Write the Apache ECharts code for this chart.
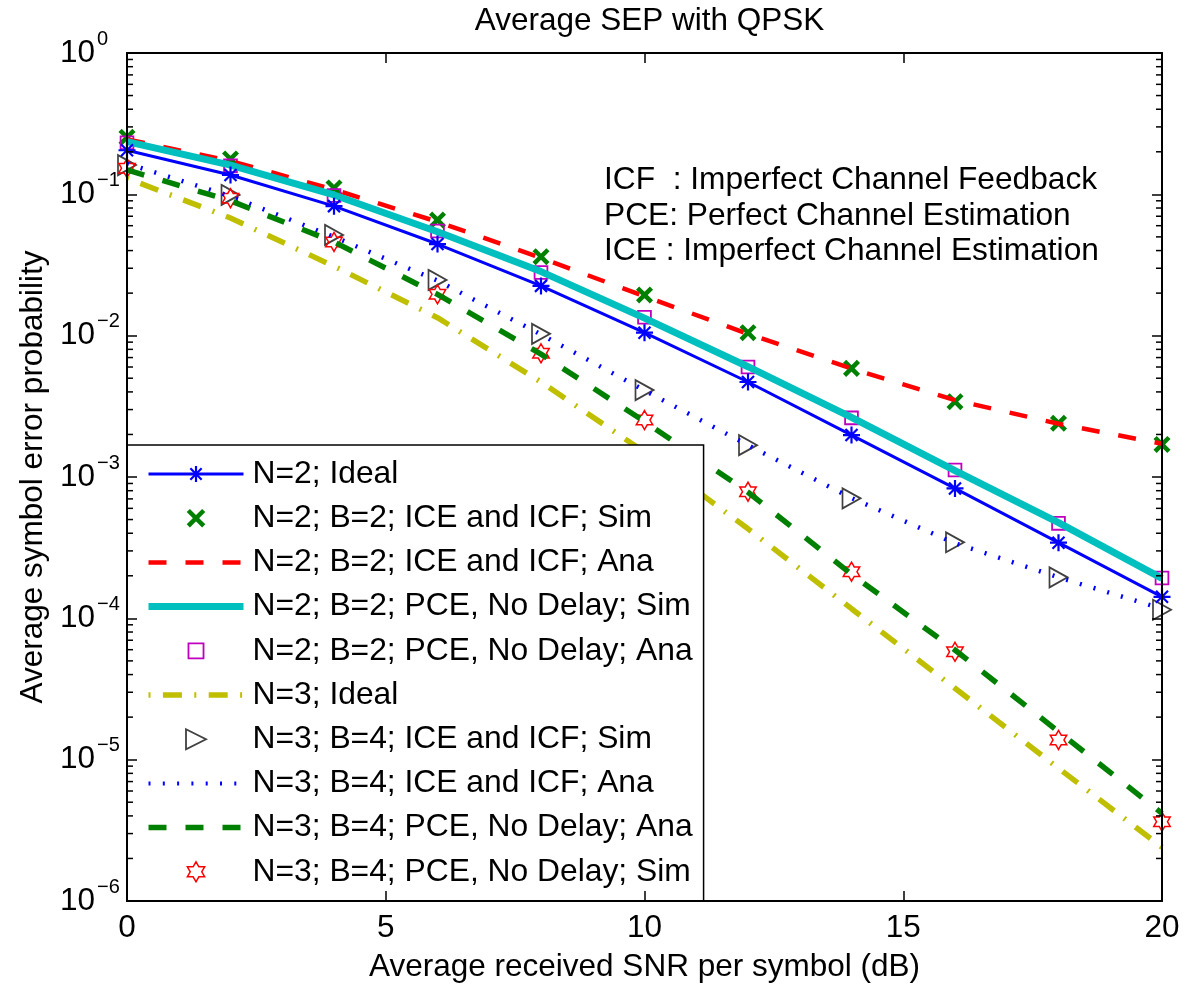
<!DOCTYPE html>
<html>
<head>
<meta charset="utf-8">
<script src="https://cdn.jsdelivr.net/npm/echarts@6/dist/echarts.min.js"></script>
<style>
  html, body { margin: 0; padding: 0; background: #fff; }
  #chart { width: 1186px; height: 990px; }
</style>
</head>
<body>
<div id="chart"></div>
<script>
// SNR grid (dB)
const snr = [0, 2, 4, 6, 8, 10, 12, 14, 16, 18, 20];

// N = 2 curves
const n2Ideal   = [0.205, 0.137, 0.0825, 0.0445, 0.0225, 0.0105, 0.0047, 0.00198, 0.00083, 0.000343, 0.000142];
const n2IceSim  = [0.253, 0.178, 0.111, 0.0658, 0.0362, 0.0194, 0.0105, 0.00587, 0.00341, 0.0024, 0.0017];
const n2IceAna  = [0.245, 0.172, 0.108, 0.064, 0.0355, 0.019, 0.0103, 0.00585, 0.0035, 0.00238, 0.00172];
const n2PceSim  = [0.236, 0.161, 0.099, 0.0544, 0.0284, 0.0133, 0.00603, 0.00264, 0.00111, 0.000475, 0.000192];
const n2PceAna  = [0.232, 0.159, 0.098, 0.055, 0.028, 0.0135, 0.006, 0.00262, 0.00112, 0.00047, 0.000193];

// N = 3 curves
const n3Ideal   = [0.13, 0.068, 0.031, 0.0134, 0.0047, 0.0015, 0.00043, 0.000117, 0.000032, 0.0000087, 0.0000024];
const n3IceSim  = [0.161, 0.099, 0.0516, 0.0248, 0.0103, 0.00412, 0.00168, 0.000706, 0.000345, 0.000195, 0.000115];
const n3IceAna  = [0.165, 0.097, 0.05, 0.0245, 0.0102, 0.0041, 0.00168, 0.00071, 0.00034, 0.000195, 0.000117];
const n3PceAna  = [0.149, 0.09, 0.046, 0.0196, 0.0074, 0.00247, 0.00078, 0.000205, 0.0000597, 0.0000158, 0.00000417];
const n3PceSim  = [0.153, 0.094, 0.046, 0.0196, 0.0075, 0.00253, 0.000787, 0.000214, 0.000058, 0.0000138, 0.00000364];

// Axis ranges
const xMin = 0, xMax = 20, xStep = 5;
const yMin = 1e-6, yMax = 1;

// Minor log ticks (2..9 within each decade)
const minorTicks = [];
for (let e = -6; e < 0; e++) {
  for (let m = 2; m <= 9; m++) minorTicks.push(m * Math.pow(10, e));
}

const FONT = '"Liberation Sans", Arial, Helvetica, sans-serif';

// Marker shapes (leading/trailing moveTo points pad the box so the glyph sits smaller inside it)
const ASTERISK = 'path://M0,-10L0,10M-10,0L10,0M-7.07,-7.07L7.07,7.07M-7.07,7.07L7.07,-7.07';
const XMARK = 'path://M-1.3,-1.3M-1,-1L1,1M-1,1L1,-1M1.3,1.3';
const SQUARE = 'path://M-1.33,-1.33M-1,-1L1,-1L1,1L-1,1ZM1.33,1.33';
const TRI_RIGHT = 'path://M0,0L1,0.5L0,1Z';
const HEXAGRAM = 'path://M0,-1L0.2887,-0.5L0.866,-0.5L0.577,0L0.866,0.5L0.2887,0.5L0,1L-0.2887,0.5L-0.866,0.5L-0.577,0L-0.866,-0.5L-0.2887,-0.5Z';
const CLEAR = 'rgba(0,0,0,0)';

const pair = arr => snr.map((x, i) => [x, arr[i]]);

const chart = echarts.init(document.getElementById('chart'), null, { renderer: 'canvas' });

const axisLineStyle = { color: '#000', width: 2 };
const tickStyle = { color: '#000', width: 1.5 };

const option = {
  animation: false,
  backgroundColor: '#fff',
  title: {
    text: 'Average SEP with QPSK',
    left: 644.5,
    top: 1,
    textAlign: 'center',
    textStyle: { fontFamily: FONT, fontSize: 31.5, fontWeight: 'normal', color: '#000', lineHeight: 31 }
  },
  grid: { left: 127, right: 24, top: 53, bottom: 89, containLabel: false },
  xAxis: [
    {
      type: 'value', min: xMin, max: xMax, interval: xStep, z: 10,
      name: 'Average received SNR per symbol (dB)',
      nameLocation: 'middle', nameGap: 51,
      nameTextStyle: { fontFamily: FONT, fontSize: 31.5, color: '#000', lineHeight: 31 },
      axisLine: { show: true, onZero: false, lineStyle: axisLineStyle },
      axisTick: { show: true, inside: true, length: 10, lineStyle: tickStyle },
      axisLabel: { fontFamily: FONT, fontSize: 31.5, color: '#000', margin: 12, lineHeight: 31 },
      splitLine: { show: false }
    },
    {
      type: 'value', position: 'top', min: xMin, max: xMax, interval: xStep, z: 10,
      axisLine: { show: true, onZero: false, lineStyle: axisLineStyle },
      axisTick: { show: true, inside: true, length: 10, lineStyle: tickStyle },
      axisLabel: { show: false },
      splitLine: { show: false }
    }
  ],
  yAxis: [
    {
      type: 'log', logBase: 10, min: yMin, max: yMax, interval: 1, z: 10,
      name: 'Average symbol error probability',
      nameLocation: 'middle', nameGap: 68, nameRotate: 90,
      nameTextStyle: { fontFamily: FONT, fontSize: 31.5, color: '#000', lineHeight: 31 },
      axisLine: { show: true, onZero: false, lineStyle: axisLineStyle },
      axisTick: { show: true, inside: true, length: 10, lineStyle: tickStyle },
      axisLabel: {
        align: 'left', margin: 67, padding: [0, 0, 8.5, 0], color: '#000',
        formatter: v => {
          const e = Math.round(Math.log10(v));
          return '{b|10}{s|' + (e < 0 ? '\u2212' + (-e) : e) + '}';
        },
        rich: {
          b: { fontFamily: FONT, fontSize: 31.5, height: 31, padding: [8.5, 0, 0, 0], color: '#000' },
          s: { fontFamily: FONT, fontSize: 20, height: 20, padding: [0, 0, 19.5, 2], color: '#000' }
        }
      },
      splitLine: { show: false }
    },
    {
      type: 'log', logBase: 10, min: yMin, max: yMax, interval: 1, position: 'right', z: 10,
      axisLine: { show: true, onZero: false, lineStyle: axisLineStyle },
      axisTick: { show: true, inside: true, length: 10, lineStyle: tickStyle },
      axisLabel: { show: false },
      splitLine: { show: false }
    }
  ],
  legend: {
    orient: 'vertical',
    left: 127, top: 445,
    backgroundColor: '#fff',
    borderColor: '#000', borderWidth: 1.5, borderRadius: 0,
    padding: [11, 11, 11, 18],
    itemWidth: 95, itemHeight: 20, itemGap: 8.2,
    symbolKeepAspect: true,
    selectedMode: false,
    z: 5,
    textStyle: { fontFamily: FONT, fontSize: 31.8, color: '#000', lineHeight: 36, padding: [0, 0, 0, 4] },
    data: [
      { name: 'N=2; Ideal', lineStyle: { width: 3 }, itemStyle: { borderWidth: 2.2 } },
      { name: 'N=2; B=2; ICE and ICF; Sim', itemStyle: { borderWidth: 4.5 } },
      { name: 'N=2; B=2; ICE and ICF; Ana', lineStyle: { width: 4.5 }, itemStyle: { opacity: 0 } },
      { name: 'N=2; B=2; PCE, No Delay; Sim', lineStyle: { width: 7 }, itemStyle: { opacity: 0 } },
      { name: 'N=2; B=2; PCE, No Delay; Ana', itemStyle: { borderWidth: 1.8 } },
      { name: 'N=3; Ideal', lineStyle: { width: 5.5 }, itemStyle: { opacity: 0 } },
      { name: 'N=3; B=4; ICE and ICF; Sim', itemStyle: { borderWidth: 1.8 } },
      { name: 'N=3; B=4; ICE and ICF; Ana', lineStyle: { width: 4 }, itemStyle: { opacity: 0 } },
      { name: 'N=3; B=4; PCE, No Delay; Ana', lineStyle: { width: 5.5 }, itemStyle: { opacity: 0 } },
      { name: 'N=3; B=4; PCE, No Delay; Sim', itemStyle: { borderWidth: 1.5 } }
    ]
  },
  graphic: [
    {
      type: 'text', left: 604, top: 163, z: 20,
      style: {
        text: 'ICF  : Imperfect Channel Feedback\nPCE: Perfect Channel Estimation\nICE : Imperfect Channel Estimation',
        font: '31.7px ' + FONT, fill: '#000', lineHeight: 35.5
      }
    }
  ],
  series: [
    {
      name: 'N=2; Ideal', type: 'line', data: pair(n2Ideal), clip: false,
      symbol: ASTERISK, symbolSize: 17, showAllSymbol: true,
      lineStyle: { color: '#0000ff', width: 3 },
      itemStyle: { color: CLEAR, borderColor: '#0000ff', borderWidth: 2.2 }
    },
    {
      name: 'N=2; B=2; ICE and ICF; Sim', type: 'scatter', data: pair(n2IceSim), clip: false,
      symbol: XMARK, symbolSize: 18,
      itemStyle: { color: CLEAR, borderColor: '#008000', borderWidth: 4.5, opacity: 1 }
    },
    {
      name: 'N=2; B=2; ICE and ICF; Ana', type: 'line', data: pair(n2IceAna), clip: false,
      symbol: 'none',
      lineStyle: { color: '#ff0000', width: 4.5, type: [18, 19] },
      itemStyle: { color: '#ff0000' }
    },
    {
      name: 'N=2; B=2; PCE, No Delay; Sim', type: 'line', data: pair(n2PceSim), clip: false,
      symbol: 'none',
      lineStyle: { color: '#00bfbf', width: 7 },
      itemStyle: { color: '#00bfbf' }
    },
    {
      name: 'N=2; B=2; PCE, No Delay; Ana', type: 'scatter', data: pair(n2PceAna), clip: false,
      symbol: SQUARE, symbolSize: 17,
      itemStyle: { color: CLEAR, borderColor: '#bf00bf', borderWidth: 1.8, opacity: 1 }
    },
    {
      name: 'N=3; Ideal', type: 'line', data: pair(n3Ideal), clip: false,
      symbol: 'none',
      lineStyle: { color: '#bfbf00', width: 5.5, type: [2, 12.4, 19, 12.4] },
      itemStyle: { color: '#bfbf00' }
    },
    {
      name: 'N=3; B=4; ICE and ICF; Sim', type: 'scatter', data: pair(n3IceSim), clip: false,
      symbol: TRI_RIGHT, symbolSize: [18, 20],
      itemStyle: { color: CLEAR, borderColor: '#404040', borderWidth: 1.8, opacity: 1 }
    },
    {
      name: 'N=3; B=4; ICE and ICF; Ana', type: 'line', data: pair(n3IceAna), clip: false,
      symbol: 'none',
      lineStyle: { color: '#0000ff', width: 4.5, type: [2, 12.3] },
      itemStyle: { color: '#0000ff' }
    },
    {
      name: 'N=3; B=4; PCE, No Delay; Ana', type: 'line', data: pair(n3PceAna), clip: false,
      symbol: 'none',
      lineStyle: { color: '#008000', width: 5.5, type: [18, 19] },
      itemStyle: { color: '#008000' }
    },
    {
      name: 'N=3; B=4; PCE, No Delay; Sim', type: 'scatter', data: pair(n3PceSim), clip: false,
      symbol: HEXAGRAM, symbolSize: 19, symbolKeepAspect: true,
      itemStyle: { color: CLEAR, borderColor: '#ff0000', borderWidth: 1.5, opacity: 1 }
    },
    {
      // minor log ticks on the left and right frame edges
      type: 'custom', silent: true, clip: false, z: 10,
      data: minorTicks.map(v => [xMin, v]),
      renderItem: (params, api) => {
        const v = api.value(1);
        const l = api.coord([xMin, v]);
        const r = api.coord([xMax, v]);
        return {
          type: 'group',
          children: [
            { type: 'line', shape: { x1: l[0], y1: l[1], x2: l[0] + 6, y2: l[1] }, style: { stroke: '#000', lineWidth: 1.5 } },
            { type: 'line', shape: { x1: r[0] - 6, y1: r[1], x2: r[0], y2: r[1] }, style: { stroke: '#000', lineWidth: 1.5 } }
          ]
        };
      }
    }
  ]
};

chart.setOption(option);
</script>
</body>
</html>
